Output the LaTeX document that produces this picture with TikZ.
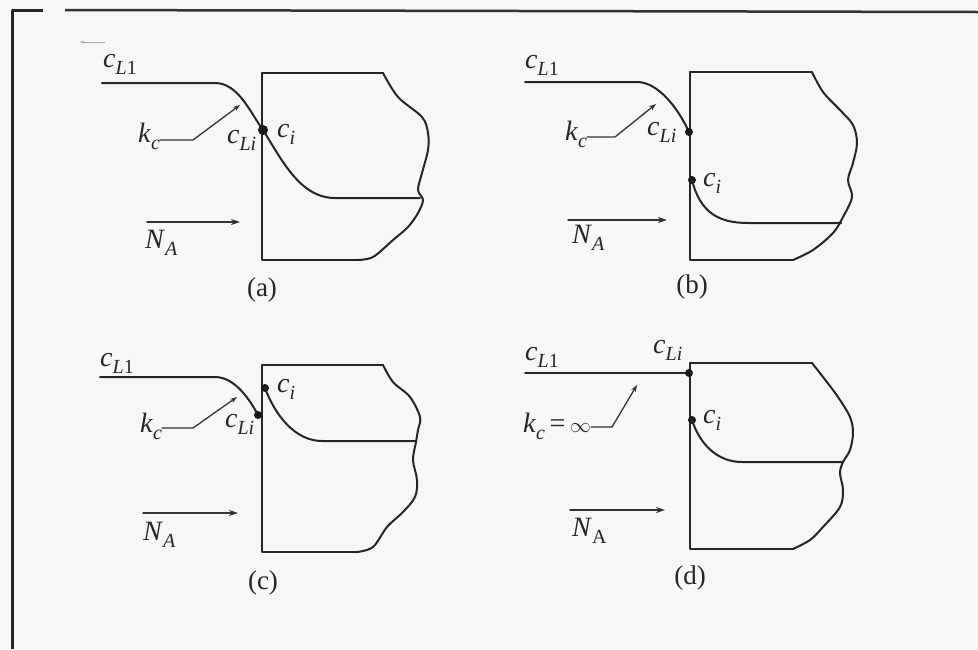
\documentclass[tikz,border=0pt]{standalone}
\usepackage{fontspec}
\setmainfont{Liberation Serif}
\usetikzlibrary{arrows.meta}
\newcommand{\sx}[2]{\textit{#1}\raisebox{-0.6ex}{\fontsize{20}{20}\selectfont #2}}
\begin{document}
\begin{tikzpicture}[x=1pt,y=-1pt, line join=round, line cap=round,
  ln/.style={line width=2pt, draw=black!85},
  bx/.style={line width=2pt, draw=black!85},
  wav/.style={bx, smooth, tension=0.55},
  dotm/.style={circle, fill=black!90, inner sep=0pt, minimum size=8pt},
  lbl/.style={font=\fontsize{28}{30}\selectfont, inner sep=0pt, text=black!85, anchor=base west},
  captxt/.style={font=\fontsize{27}{29}\selectfont, inner sep=0pt, text=black!85},
  lead/.style={line width=1.3pt, draw=black!80, -{Stealth[length=7pt,width=5pt]}},
  flux/.style={line width=1.5pt, draw=black!80, -{Stealth[length=9pt,width=6pt]}}]
\fill[black!3] (0,0) rectangle (978,649);
\useasboundingbox (0,0) rectangle (978,649);
% frame
\draw[line width=3pt, black!85, line cap=butt] (43,10) -- (12,10) -- (12,649);
\draw[line width=2.5pt, black!80, line cap=butt] (65,10) -- (978,12);
\coordinate (m1) at (105,42); \coordinate (m2) at (80,42);
\draw[black!35, line width=0.8pt, -{Stealth[length=4pt,width=3pt]}] (m1) -- (m2);

% ---------- (a)
\draw[bx] (383,73) -- (262,73) -- (262,260) -- (357,260);
\draw[wav] plot coordinates {(357,260) (373,257) (393,240) (408,227) (418,213) (423,200) (418,190) (422,173) (428,150) (428,133) (422,117) (398,97) (383,73)};
\draw[ln] (102,83) -- (215,83) .. controls (238,83) and (250,112) .. (263,130) .. controls (282,160) and (300,198) .. (335,198) -- (420,198);
\node[dotm, minimum size=10pt] (ia) at (263,130) {};
\node[lbl] (cL1a) at (103,67) {\sx{c}{\textit{L}1}};
\node[lbl] (kca) at (138,142) {\sx{k}{\textit{c}}};
\node[lbl] (cLia) at (227,143) {\sx{c}{\textit{Li}}};
\node[lbl] (cia) at (277,137) {\sx{c}{\textit{i}}};
\coordinate (kca1) at (193,140); \coordinate (kca2) at (240,105);
\draw[lead] (kca.east |- kca1) -- (kca1) -- (kca2);
\coordinate (naa1) at (147,222); \coordinate (naa2) at (240,222);
\draw[flux] (naa1) -- (naa2);
\node[lbl] (NAa) at (145,248) {\sx{N}{\textit{A}}};
\node[captxt] (capa) at (262,290) {(a)};

% ---------- (b)
\draw[bx] (812,72) -- (690,72) -- (690,260) -- (793,260);
\draw[wav] plot coordinates {(793,260) (813,250) (833,233) (843,217) (852,197) (848,180) (853,163) (857,143) (853,125) (840,110) (823,92) (812,72)};
\draw[ln] (525,82) -- (637,82) .. controls (658,82) and (678,108) .. (689,132);
\node[dotm] (Lib) at (689,132) {};
\node[dotm] (ib) at (692,180) {};
\draw[ln] (ib.center) .. controls (700,212) and (718,223) .. (748,223) -- (841,223);
\node[lbl] (cL1b) at (525,68) {\sx{c}{\textit{L}1}};
\node[lbl] (kcb) at (565,140) {\sx{k}{\textit{c}}};
\node[lbl] (cLib) at (647,135) {\sx{c}{\textit{Li}}};
\node[lbl] (cib) at (703,186) {\sx{c}{\textit{i}}};
\coordinate (kcb1) at (615,137); \coordinate (kcb2) at (656,104);
\draw[lead] (kcb.east |- kcb1) -- (kcb1) -- (kcb2);
\coordinate (nab1) at (568,220); \coordinate (nab2) at (667,220);
\draw[flux] (nab1) -- (nab2);
\node[lbl] (NAb) at (572,243) {\sx{N}{\textit{A}}};
\node[captxt] (capb) at (692,287) {(b)};

% ---------- (c)
\draw[bx] (383,365) -- (262,365) -- (262,552) -- (357,552);
\draw[wav] plot coordinates {(357,552) (373,547) (387,527) (403,512) (415,497) (417,480) (413,460) (416,442) (418,430) (420,417) (410,397) (393,382) (383,365)};
\draw[ln] (100,377) -- (215,377) .. controls (235,377) and (250,400) .. (258,415);
\node[dotm] (Lic) at (258,415) {};
\node[dotm] (ic) at (265,388) {};
\draw[ln] (ic.center) .. controls (275,415) and (295,441) .. (322,441) -- (416,441);
\node[lbl] (cL1c) at (100,366) {\sx{c}{\textit{L}1}};
\node[lbl] (kcc) at (140,432) {\sx{k}{\textit{c}}};
\node[lbl] (cLic) at (225,427) {\sx{c}{\textit{Li}}};
\node[lbl] (cic) at (277,392) {\sx{c}{\textit{i}}};
\coordinate (kcc1) at (193,428); \coordinate (kcc2) at (237,397);
\draw[lead] (kcc.east |- kcc1) -- (kcc1) -- (kcc2);
\coordinate (nac1) at (143,513); \coordinate (nac2) at (238,513);
\draw[flux] (nac1) -- (nac2);
\node[lbl] (NAc) at (143,540) {\sx{N}{\textit{A}}};
\node[captxt] (capc) at (263,583) {(c)};

% ---------- (d)
\draw[bx] (812,363) -- (690,363) -- (690,549) -- (793,549);
\draw[wav] plot coordinates {(793,549) (810,540) (823,527) (840,507) (843,490) (840,473) (843,462) (850,450) (853,433) (850,417) (838,397) (823,377) (812,363)};
\draw[ln] (525,373) -- (689,373);
\node[dotm] (Lid) at (689,373) {};
\node[dotm] (id) at (692,420) {};
\draw[ln] (id.center) .. controls (700,445) and (718,462) .. (742,462) -- (843,462);
\node[lbl] (cL1d) at (525,360) {\sx{c}{\textit{L}1}};
\node[lbl] (cLid) at (653,353) {\sx{c}{\textit{Li}}};
\node[lbl] (kcd) at (523,432) {\sx{k}{\textit{c}}\,=\,{\fontsize{20}{20}\selectfont$\infty$}};
\node[lbl] (cid) at (703,423) {\sx{c}{\textit{i}}};
\coordinate (kcd1) at (612,427); \coordinate (kcd2) at (637,385);
\draw[lead] (kcd.east |- kcd1) -- (kcd1) -- (kcd2);
\coordinate (nad1) at (570,510); \coordinate (nad2) at (665,510);
\draw[flux] (nad1) -- (nad2);
\node[lbl] (NAd) at (572,536) {\sx{N}{A}};
\node[captxt] (capd) at (690,578) {(d)};
\end{tikzpicture}
\end{document}
